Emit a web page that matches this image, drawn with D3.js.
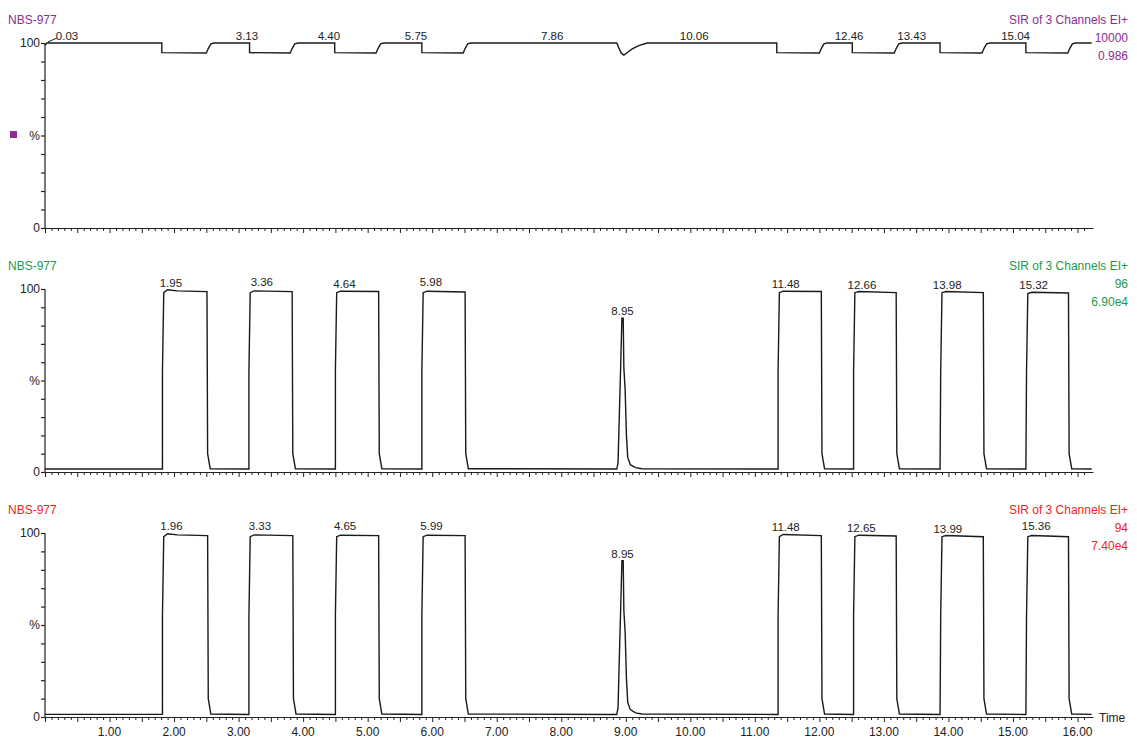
<!DOCTYPE html>
<html>
<head>
  <meta charset="utf-8">
  <title>NBS-977 SIR chromatogram</title>
  <script type="text/javascript" src="https://cdn.jsdelivr.net/npm/d3@7"></script>
  <style>
    body { margin: 0; background: #fff; }
    text { font-family: "Liberation Sans", Arial, sans-serif; }
  </style>
</head>
<body>
  <div id="canvas"></div>
  <script type="text/javascript">
    // tick labels on the time axis
    var timeTicks = [1, 2, 3, 4, 5, 6, 7, 8, 9, 10, 11, 12, 13, 14, 15, 16];
    var timeMax = 16.24;

    var titles = ["NBS-977", "NBS-977", "NBS-977"];
    var channelText = ["SIR of 3 Channels EI+", "SIR of 3 Channels EI+", "SIR of 3 Channels EI+"];
    var channelMass = ["10000", "96", "94"];
    var channelIntensity = ["0.986", "6.90e4", "7.40e4"];

    // trace 1 : [time, %]
    var trace1 = [
      [0.00, 98.8], [0.03, 100], [1.81, 100], [1.81, 94.8], [2.50, 94.6], [2.53, 97], [2.57, 99.5], [2.62, 100],
      [3.17, 100], [3.17, 94.8], [3.80, 94.6], [3.83, 97], [3.87, 99.5], [3.92, 100],
      [4.49, 100], [4.49, 94.8], [5.13, 94.6], [5.16, 97], [5.20, 99.5], [5.25, 100],
      [5.84, 100], [5.84, 94.8], [6.48, 94.6], [6.51, 97], [6.55, 99.5], [6.60, 100],
      [8.86, 100], [8.89, 97.5], [8.93, 94.5], [8.97, 93.5], [9.03, 95], [9.10, 96.8], [9.20, 98.6], [9.33, 100],
      [11.34, 100], [11.34, 94.8], [12.00, 94.6], [12.03, 97], [12.07, 99.5], [12.12, 100],
      [12.51, 100], [12.51, 94.8], [13.16, 94.6], [13.19, 97], [13.23, 99.5], [13.28, 100],
      [13.87, 100], [13.87, 94.8], [14.52, 94.6], [14.55, 97], [14.59, 99.5], [14.64, 100],
      [15.20, 100], [15.20, 94.8], [15.85, 94.6], [15.88, 97], [15.92, 99.5], [15.97, 100],
      [16.22, 100]
    ];

    // trace 2 : m/z 96
    var trace2 = [
      [0.00, 1.6], [1.82, 1.6], [1.82, 55], [1.84, 98], [1.90, 99.6], [2.05, 99], [2.51, 98.6], [2.52, 10], [2.56, 1.8],
      [3.16, 1.6], [3.16, 55], [3.18, 98], [3.24, 99], [3.83, 98.6], [3.84, 10], [3.88, 1.8],
      [4.50, 1.6], [4.50, 55], [4.52, 98], [4.58, 98.8], [5.17, 98.6], [5.18, 10], [5.22, 1.8],
      [5.84, 1.6], [5.84, 55], [5.86, 98], [5.92, 98.8], [6.51, 98.4], [6.52, 10], [6.56, 1.8],
      [8.86, 1.6], [8.88, 5], [8.90, 31], [8.92, 57], [8.94, 84], [8.96, 84], [8.97, 57], [8.99, 45], [9.01, 20], [9.03, 8],
      [9.07, 4], [9.15, 2.4], [9.25, 1.8], [11.36, 1.6],
      [11.36, 55], [11.38, 98], [11.44, 98.8], [12.03, 98.6], [12.04, 10], [12.08, 1.8],
      [12.53, 1.6], [12.53, 55], [12.55, 98], [12.61, 98.6], [13.19, 98], [13.20, 10], [13.24, 1.8],
      [13.87, 1.6], [13.88, 55], [13.90, 98], [13.96, 98.6], [14.54, 98], [14.55, 10], [14.59, 1.8],
      [15.20, 1.6], [15.21, 55], [15.23, 97.5], [15.29, 98.2], [15.86, 97.8], [15.87, 10], [15.91, 1.8],
      [16.22, 1.6]
    ];

    // trace 3 : m/z 94
    var trace3 = [
      [0.00, 1.4], [1.82, 1.4], [1.82, 55], [1.84, 98], [1.90, 99.6], [2.05, 99], [2.52, 98.6], [2.53, 10], [2.57, 1.6],
      [3.16, 1.4], [3.16, 55], [3.18, 98], [3.24, 99], [3.84, 98.6], [3.85, 10], [3.89, 1.6],
      [4.50, 1.4], [4.50, 55], [4.52, 98], [4.58, 98.8], [5.17, 98.6], [5.18, 10], [5.22, 1.6],
      [5.84, 1.4], [5.84, 55], [5.86, 98], [5.92, 98.8], [6.51, 98.6], [6.52, 10], [6.56, 1.6],
      [8.86, 1.4], [8.88, 5], [8.90, 32], [8.92, 58], [8.94, 85], [8.96, 85], [8.97, 58], [8.99, 46], [9.01, 21], [9.03, 8],
      [9.07, 4], [9.15, 2.2], [9.25, 1.6], [11.36, 1.4],
      [11.36, 55], [11.38, 98], [11.44, 99.2], [12.03, 98.6], [12.04, 10], [12.08, 1.6],
      [12.53, 1.4], [12.53, 55], [12.55, 98], [12.61, 98.8], [13.19, 98.4], [13.20, 10], [13.24, 1.6],
      [13.87, 1.4], [13.88, 55], [13.90, 98], [13.96, 98.6], [14.54, 98], [14.55, 10], [14.59, 1.6],
      [15.20, 1.4], [15.21, 55], [15.23, 98], [15.29, 98.6], [15.86, 98], [15.87, 10], [15.91, 1.6],
      [16.22, 1.4]
    ];

    var peaks1 = [0.03, 3.13, 4.40, 5.75, 7.86, 10.06, 12.46, 13.43, 15.04];
    var peaks2 = [1.95, 3.36, 4.64, 5.98, 8.95, 11.48, 12.66, 13.98, 15.32];
    var peaks3 = [1.96, 3.33, 4.65, 5.99, 8.95, 11.48, 12.65, 13.99, 15.36];

    var traces = [trace1, trace2, trace3];
    var peakLists = [peaks1, peaks2, peaks3];
    var colors = ["#8d2d8f", "#1d9a4f", "#ea2622"];
    var panelTop = [43, 289, 533];
    var panelBottom = [228, 472, 717];

    var W = 1137, H = 738, left = 45, right = 1093;
    var svg = d3.select("#canvas").append("svg").attr("width", W).attr("height", H);

    var x = d3.scaleLinear().domain([0, timeMax]).range([left, right]);
    var minorTicks = d3.range(0, 162).map(function(i) { return i / 10; });

    traces.forEach(function(tr, p) {
      var y = d3.scaleLinear().domain([0, 100]).range([panelBottom[p], panelTop[p]]);
      var g = svg.append("g");

      // left axis with ticks every 10 %
      var yAxis = d3.axisLeft(y).tickValues(d3.range(0, 101, 10)).tickSize(4).tickFormat("");
      g.append("g").attr("transform", "translate(" + left + ",0)").call(yAxis)
        .call(function(s) { s.select(".domain").attr("d", "M0," + y(100) + "V" + y(0)); })
        .selectAll("line, path").attr("stroke", "#222").attr("stroke-width", 1.2);

      [[100, "100"], [50, "%"], [0, "0"]].forEach(function(l) {
        g.append("text").attr("x", left - 5).attr("y", y(l[0]) + 4)
          .attr("text-anchor", "end").attr("font-size", 12).attr("fill", "#222").text(l[1]);
      });

      // bottom axis
      var xAxis = d3.axisBottom(x).tickValues(minorTicks).tickFormat("")
        .tickSizeOuter(0);
      var ax = g.append("g").attr("transform", "translate(0," + y(0) + ")").call(xAxis);
      ax.select(".domain").attr("stroke", "#222").attr("stroke-width", 1.2);
      ax.selectAll(".tick line").attr("stroke", "#222")
        .attr("y2", function(d) { return Math.abs(d * 2 - Math.round(d * 2)) < 1e-6 ? 5 : 3; });

      if (p === 2) {
        timeTicks.forEach(function(t) {
          g.append("text").attr("x", x(t)).attr("y", y(0) + 19).attr("text-anchor", "middle")
            .attr("font-size", 12).attr("fill", "#222").text(t.toFixed(2));
        });
        g.append("text").attr("x", right + 6).attr("y", y(0) + 5).attr("font-size", 12)
          .attr("fill", "#222").text("Time");
      }

      // trace
      var line = d3.line().x(function(d) { return x(d[0]); }).y(function(d) { return y(d[1]); });
      g.append("path").datum(tr).attr("d", line).attr("fill", "none")
        .attr("stroke", "#1a1a1a").attr("stroke-width", 1.4);

      // peak labels
      peakLists[p].forEach(function(t) {
        var top = d3.max(tr.filter(function(d) { return Math.abs(d[0] - t) < 0.06; }), function(d) { return d[1]; });
        if (top === undefined) top = 100;
        var lx = Math.max(x(t), left + 22);
        if (lx !== x(t)) {
          g.append("line").attr("x1", x(t) + 1).attr("y1", y(top) - 1).attr("x2", lx - 10).attr("y2", y(top) - 5)
            .attr("stroke", "#222").attr("stroke-width", 1);
        }
        g.append("text").attr("x", lx).attr("y", y(top) - 3).attr("text-anchor", "middle")
          .attr("font-size", 11.5).attr("fill", "#222").text(t.toFixed(2));
      });

      // headers
      g.append("text").attr("x", 8).attr("y", panelTop[p] - 19).attr("font-size", 12)
        .attr("fill", colors[p]).text(titles[p]);
      var rt = g.append("g").attr("fill", colors[p]).attr("font-size", 12).attr("text-anchor", "end");
      rt.append("text").attr("x", 1128).attr("y", panelTop[p] - 2 - 17).text(channelText[p]);
      rt.append("text").attr("x", 1128).attr("y", panelTop[p] - 1).text(channelMass[p]);
      rt.append("text").attr("x", 1128).attr("y", panelTop[p] + 17).text(channelIntensity[p]);
    });

    // small marker next to the first panel's axis
    svg.append("rect").attr("x", 10).attr("y", 131).attr("width", 7).attr("height", 7).attr("fill", colors[0]);
  </script>
</body>
</html>
